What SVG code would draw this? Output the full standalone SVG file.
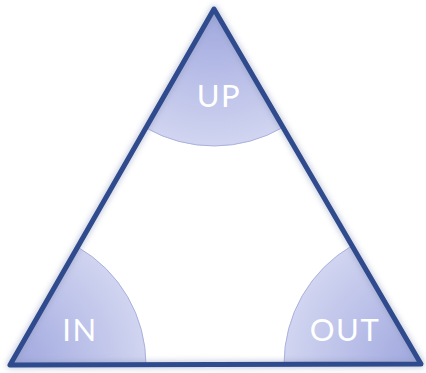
<svg xmlns="http://www.w3.org/2000/svg" width="426" height="373" viewBox="0 0 426 373">
<defs>
<radialGradient id="gUp" gradientUnits="userSpaceOnUse" cx="214" cy="9" r="140">
<stop offset="0" stop-color="#9fa7de"/><stop offset="1" stop-color="#d2d6f1"/>
</radialGradient>
<radialGradient id="gIn" gradientUnits="userSpaceOnUse" cx="10" cy="365" r="140">
<stop offset="0" stop-color="#9fa7de"/><stop offset="1" stop-color="#d2d6f1"/>
</radialGradient>
<radialGradient id="gOut" gradientUnits="userSpaceOnUse" cx="421" cy="364" r="140">
<stop offset="0" stop-color="#9fa7de"/><stop offset="1" stop-color="#d2d6f1"/>
</radialGradient>
<filter id="sh" x="-10%" y="-10%" width="120%" height="120%">
<feGaussianBlur stdDeviation="3"/>
</filter>
<style>
.sec{stroke:#aab1dd;stroke-width:1}
.lbl{font-family:"Lato","Liberation Sans",sans-serif;font-size:31px;fill:#ffffff;text-anchor:middle;letter-spacing:1.5px}
.tri{fill:none;stroke:#2f4b8d;stroke-width:5;stroke-linejoin:round}
</style>
</defs>
<rect width="426" height="373" fill="#ffffff"/>
<g id="UP">
<path class="sec" d="M214,9 L145.9,127.9 A137,137 0 0 0 283,127.3 Z" fill="url(#gUp)"/>
<text class="lbl" x="219" y="107">UP</text>
</g>
<g id="IN">
<path class="sec" d="M10,365 L77.6,247 A136,136 0 0 1 146,365 Z" fill="url(#gIn)"/>
<text class="lbl" x="80" y="341">IN</text>
</g>
<g id="OUT">
<path class="sec" d="M421,364 L352,245.7 A137,137 0 0 0 284,364 Z" fill="url(#gOut)"/>
<text class="lbl" x="345" y="341">OUT</text>
</g>
<g id="connectors">
<path d="M214,9 L10,365 L421,364 Z" fill="none" stroke="#8c96b8" stroke-width="6" stroke-linejoin="round" opacity="0.6" filter="url(#sh)"/>
<path class="tri" d="M214,9 L10,365 L421,364 Z"/>
</g>
</svg>
